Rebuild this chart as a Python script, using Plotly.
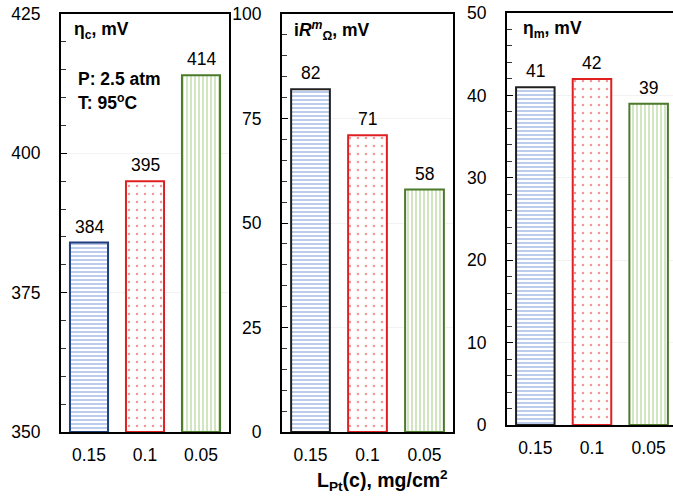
import plotly.graph_objects as go

categories = ["0.15", "0.1", "0.05"]
eta_c = [384, 395, 414]
ir_m = [82, 71, 58]
eta_m = [41, 42, 39]

fill_fg = ["#6a8fd8", "#e03030", "#8cc063"]
shapes_p = ["-", ".", "|"]
border1 = ["#203f7f", "#e02020", "#4a7a2a"]
border23 = ["#202020", "#e02020", "#4a7a2a"]

W, H = 673, 497
FONT = "Liberation Sans, Arial, sans-serif"
FS = 17.5

fig = go.Figure()

def px_x(a, b):
    return [a / W, b / W]

def px_y(top, bottom):
    return [(H - bottom) / H, (H - top) / H]

panels = [
    dict(vals=eta_c, rng=[350, 425], dtick=25, minor=5, xd=px_x(61, 229), yd=px_y(14, 432), xr=[-0.5, 2.5], border=border1, mirror=True),
    dict(vals=ir_m, rng=[0, 100], dtick=25, minor=5, xd=px_x(282, 453), yd=px_y(14, 432), xr=[-0.5, 2.5], border=border23, mirror=True),
    dict(vals=eta_m, rng=[0, 50], dtick=10, minor=2, xd=px_x(507, 673), yd=px_y(13, 425), xr=[-0.5, 2.43], border=border23, mirror=False),
]

for i, p in enumerate(panels, start=1):
    xa = "x" if i == 1 else f"x{i}"
    ya = "y" if i == 1 else f"y{i}"
    fig.add_trace(go.Bar(
        x=categories, y=[v - p["rng"][0] for v in p["vals"]], base=p["rng"][0],
        xaxis=xa, yaxis=ya, width=0.68,
        marker=dict(
            color="white",
            line=dict(color=p["border"], width=2),
            pattern=dict(shape=shapes_p, fgcolor=fill_fg, bgcolor="white", size=[4, 8, 4], solidity=[0.45, 0.08, 0.4], fillmode="overlay"),
        ),
        showlegend=False, hoverinfo="skip",
    ))
    for j, v in enumerate(p["vals"]):
        fig.add_annotation(x=j, y=v, xref=xa, yref=ya, text=str(v), showarrow=False,
                           yanchor="bottom", yshift=4, font=dict(size=FS, color="black", family=FONT))
    xk = "xaxis" if i == 1 else f"xaxis{i}"
    yk = "yaxis" if i == 1 else f"yaxis{i}"
    fig.update_layout({
        xk: dict(domain=p["xd"], anchor=ya, range=p["xr"], type="category", automargin=False,
                 showline=True, linecolor="black", linewidth=2, mirror=True,
                 ticks="", tickfont=dict(size=FS, color="black", family=FONT),
                 ticklabelstandoff=6, showgrid=False, zeroline=False),
        yk: dict(domain=p["yd"], anchor=xa, range=p["rng"], dtick=p["dtick"], tick0=0, automargin=False,
                 showline=True, linecolor="black", linewidth=2, mirror=p["mirror"],
                 ticks="inside", ticklen=6, tickcolor="black", tickwidth=1,
                 minor=dict(dtick=p["minor"], ticks="inside", ticklen=5, tickcolor="#333", showgrid=False),
                 tickfont=dict(size=FS, color="black", family=FONT), ticklabelstandoff=15,
                 showgrid=True, gridcolor="#f2f2f2", gridwidth=1, zeroline=False),
    })

ann = [
    dict(x=72 / W, y=(H - 31) / H, text="<b>η<sub>c</sub>, mV</b>"),
    dict(x=292 / W, y=(H - 31) / H, text="<b>i<i>R</i><sup><i>m</i></sup><sub>Ω</sub>, mV</b>"),
    dict(x=521 / W, y=(H - 30) / H, text="<b>η<sub>m</sub>, mV</b>"),
    dict(x=76 / W, y=(H - 79) / H, text="<b>P: 2.5 atm</b>"),
    dict(x=76 / W, y=(H - 102) / H, text="<b>T: 95<sup>o</sup>C</b>"),
]
for a in ann:
    fig.add_annotation(xref="paper", yref="paper", xanchor="left", yanchor="middle",
                       showarrow=False, font=dict(size=FS, color="black", family=FONT), **a)

fig.add_annotation(xref="paper", yref="paper", x=382 / W, y=(H - 480) / H, xanchor="center", yanchor="middle",
                   text="<b>L<sub>Pt</sub>(c), mg/cm<sup>2</sup></b>", showarrow=False,
                   font=dict(size=19.5, color="black", family=FONT))

fig.update_layout(width=W, height=H, margin=dict(l=0, r=0, t=0, b=0, autoexpand=False),
                  paper_bgcolor="white", plot_bgcolor="white", bargap=0.3,
                  font=dict(family=FONT, color="black"))

fig.write_html("out.html")
